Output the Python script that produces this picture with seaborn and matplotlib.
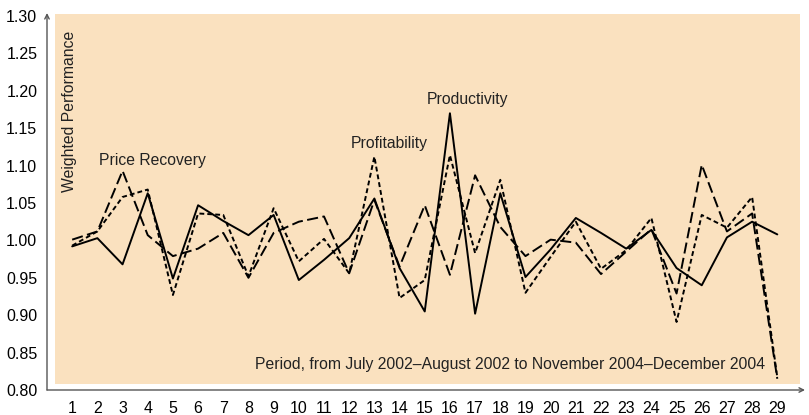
import matplotlib
matplotlib.use("Agg")
import matplotlib.pyplot as plt
import seaborn as sns
import pandas as pd

periods = list(range(1, 30))
productivity = [0.992, 1.003, 0.968, 1.063, 0.949, 1.047, 1.026, 1.007, 1.034, 0.947,
                0.974, 1.003, 1.056, 0.963, 0.905, 1.170, 0.902, 1.063, 0.951, 0.988,
                1.030, 1.010, 0.989, 1.014, 0.963, 0.940, 1.004, 1.025, 1.008]
profitability = [0.993, 1.012, 1.058, 1.068, 0.927, 1.036, 1.034, 0.952, 1.043, 0.972,
                 1.002, 0.956, 1.112, 0.923, 0.947, 1.114, 0.983, 1.081, 0.930, 0.978,
                 1.025, 0.962, 0.987, 1.030, 0.891, 1.034, 1.017, 1.058, 0.817]
price_recovery = [1.001, 1.012, 1.093, 1.007, 0.979, 0.989, 1.010, 0.950, 1.010, 1.025,
                  1.032, 0.956, 1.054, 0.965, 1.047, 0.954, 1.087, 1.018, 0.979, 1.001,
                  0.997, 0.955, 0.985, 1.015, 0.929, 1.101, 1.012, 1.036, 0.815]
y_ticks = [0.80, 0.85, 0.90, 0.95, 1.00, 1.05, 1.10, 1.15, 1.20, 1.25, 1.30]

df = pd.DataFrame({
    "Period": periods * 3,
    "Value": productivity + profitability + price_recovery,
    "Series": ["Productivity"] * 29 + ["Profitability"] * 29 + ["Price Recovery"] * 29,
})

sns.set_style("white")
plt.rcParams["font.family"] = ["Liberation Sans", "DejaVu Sans"]
plt.rcParams["lines.scale_dashes"] = False

fig = plt.figure(figsize=(8.09, 4.15), dpi=100)
ax = fig.add_axes([47 / 809, 25 / 415, 758 / 809, 377 / 415])
ax.set_facecolor("white")

ax.set_xlim(0.0, 30.1)
ax.set_ylim(0.80, 1.304)

# beige panel behind the lines
ax.add_patch(plt.Rectangle((0.33, 0.808), 29.58, 0.495, facecolor="#fae1bf",
                           edgecolor="none", zorder=0))

sns.lineplot(data=df, x="Period", y="Value", hue="Series", style="Series",
             palette={"Productivity": "black", "Profitability": "black",
                      "Price Recovery": "black"},
             dashes={"Productivity": "", "Profitability": (3.5, 2.2),
                     "Price Recovery": (8, 3.2)},
             linewidth=1.4, legend=False, ax=ax, zorder=3)

ax.set_xticks(periods)
ax.set_xticklabels([str(p) for p in periods])
ax.set_yticks(y_ticks)
ax.set_yticklabels([f"{t:.2f}" for t in y_ticks])
ax.tick_params(axis="both", length=0, labelsize=11.5, colors="black")
ax.tick_params(axis="y", pad=7)
ax.tick_params(axis="x", pad=8)
ax.set_xlabel("")
ax.set_ylabel("")

for s in ax.spines.values():
    s.set_visible(False)

# axis lines with open arrowheads
ax.annotate("", xy=(0, 1.0), xytext=(0, 0), xycoords="axes fraction",
            arrowprops=dict(arrowstyle="->", color="#555555", lw=1.0,
                            mutation_scale=8, shrinkA=0, shrinkB=0))
ax.annotate("", xy=(1.0, 0), xytext=(0, 0), xycoords="axes fraction",
            arrowprops=dict(arrowstyle="->", color="#555555", lw=1.0,
                            mutation_scale=8, shrinkA=0, shrinkB=0))

txt = dict(fontsize=11.3, color="#222222")
ax.text(0.88, 1.280, "Weighted Performance", rotation=90, ha="center", va="top", **txt)
ax.text(28.5, 0.834, "Period, from July 2002\u2013August 2002 to November 2004\u2013December 2004",
        ha="right", va="center", **txt)

ax.text(4.2, 1.107, "Price Recovery", ha="center", va="center", **txt)
ax.text(13.6, 1.129, "Profitability", ha="center", va="center", **txt)
ax.text(16.7, 1.188, "Productivity", ha="center", va="center", **txt)

fig.savefig("out.png", dpi=100)
